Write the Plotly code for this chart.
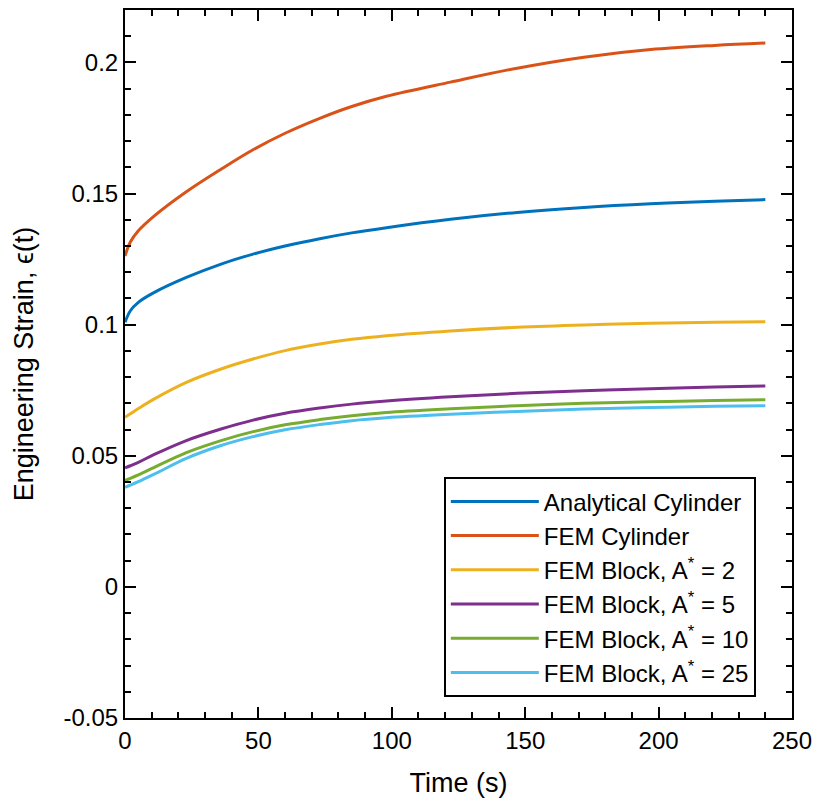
import plotly.graph_objects as go

time_s = [0, 2, 5, 11, 23, 36, 48, 60, 73, 85, 98, 122, 147, 172, 197, 221, 240]

analytical_cyl = [0.1009, 0.1053, 0.1085, 0.1123, 0.1180, 0.1231, 0.1269, 0.1300, 0.1328, 0.1350,
                  0.1370, 0.1402, 0.1428, 0.1447, 0.1461, 0.1471, 0.1477]
fem_cyl = [0.1262, 0.1315, 0.1358, 0.1415, 0.1507, 0.1593, 0.1667, 0.1730, 0.1787, 0.1832,
           0.1871, 0.1925, 0.1978, 0.2020, 0.2049, 0.2065, 0.2074]
fem_block_2 = [0.0647, 0.0660, 0.0680, 0.0717, 0.0780, 0.0831, 0.0869, 0.0901, 0.0926, 0.0944,
               0.0958, 0.0976, 0.0990, 0.0999, 0.1005, 0.1009, 0.1011]
fem_block_5 = [0.0454, 0.0462, 0.0475, 0.0505, 0.0558, 0.0602, 0.0636, 0.0662, 0.0682, 0.0697,
               0.0709, 0.0725, 0.0738, 0.0748, 0.0756, 0.0762, 0.0766]
fem_block_10 = [0.0406, 0.0414, 0.0427, 0.0456, 0.0512, 0.0558, 0.0592, 0.0618, 0.0638, 0.0653,
                0.0665, 0.0679, 0.0691, 0.0700, 0.0706, 0.0711, 0.0714]
fem_block_25 = [0.0380, 0.0388, 0.0401, 0.0430, 0.0490, 0.0539, 0.0573, 0.0599, 0.0619, 0.0634,
                0.0645, 0.0658, 0.0669, 0.0678, 0.0684, 0.0689, 0.0691]

series_names = ["Analytical Cylinder", "FEM Cylinder",
                "FEM Block, A<sup>*</sup> = 2", "FEM Block, A<sup>*</sup> = 5",
                "FEM Block, A<sup>*</sup> = 10", "FEM Block, A<sup>*</sup> = 25"]
series_values = [analytical_cyl, fem_cyl, fem_block_2, fem_block_5, fem_block_10, fem_block_25]
colors = ["#0072BD", "#D95319", "#EDB120", "#7E2F8E", "#77AC30", "#4DBEEE"]

x_tickvals = [0, 50, 100, 150, 200, 250]
y_tickvals = [-0.05, 0, 0.05, 0.1, 0.15, 0.2]
y_ticktext = ["-0.05", "0", "0.05", "0.1", "0.15", "0.2"]

FONT = "Liberation Sans, Arial, Helvetica, sans-serif"

fig = go.Figure()
for name, vals, col in zip(series_names, series_values, colors):
    fig.add_trace(go.Scatter(x=time_s, y=vals, mode="lines", name=name,
                             line=dict(color=col, width=3, shape="spline", smoothing=1.0)))

axis_common = dict(showline=True, linecolor="black", linewidth=2, mirror="ticks",
                   ticks="inside", ticklen=11, tickwidth=2, tickcolor="black",
                   showgrid=False, zeroline=False,
                   tickfont=dict(family=FONT, size=24, color="black"))

fig.update_xaxes(range=[0, 250], tickvals=x_tickvals,
                 minor=dict(dtick=10, tick0=0, ticks="inside", ticklen=6, tickwidth=2, tickcolor="black"),
                 title=dict(text="Time (s)", font=dict(family=FONT, size=27, color="black"), standoff=20),
                 **axis_common)
fig.update_yaxes(range=[-0.05, 0.22], tickvals=y_tickvals, ticktext=y_ticktext,
                 minor=dict(dtick=0.01, tick0=0, ticks="inside", ticklen=6, tickwidth=2, tickcolor="black"),
                 title=dict(text="Engineering Strain, ϵ(t)", font=dict(family=FONT, size=27, color="black"),
                            standoff=22),
                 **axis_common)

fig.update_layout(
    width=817, height=804,
    margin=dict(l=125, r=25, t=10, b=86, autoexpand=False),
    paper_bgcolor="white", plot_bgcolor="white",
    showlegend=True,
    legend=dict(x=0.478, y=0.34, xanchor="left", yanchor="top",
                bgcolor="white", bordercolor="black", borderwidth=2,
                font=dict(family=FONT, size=24, color="black"),
                itemwidth=88, tracegroupgap=0),
)

fig.write_html("out.html", config={"displayModeBar": False},
               post_script="document.body.style.margin='0';document.body.style.overflow='hidden';")
